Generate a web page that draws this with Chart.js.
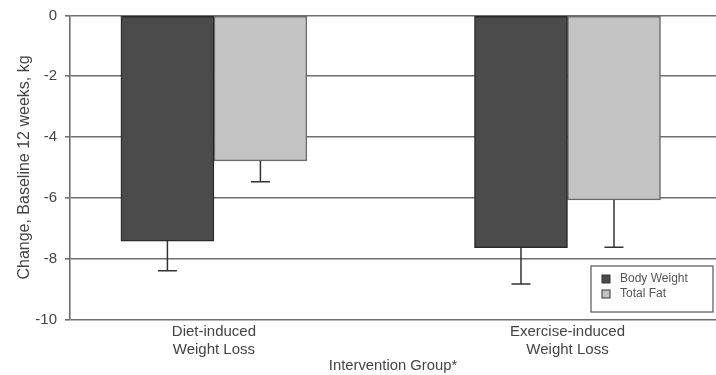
<!DOCTYPE html>
<html>
<head>
<meta charset="utf-8">
<script src="https://cdn.jsdelivr.net/npm/chart.js@4/dist/chart.umd.min.js"></script>
<style>
  html, body { margin: 0; padding: 0; background: #fff; }
  #wrap { width: 716px; height: 375px; position: relative; }
</style>
</head>
<body>
<div id="wrap"><canvas id="myChart"></canvas></div>
<script>
// values
const categories = [['Diet-induced', 'Weight Loss'], ['Exercise-induced', 'Weight Loss']];
const seriesNames = ['Body Weight', 'Total Fat'];
const bodyWeight = [-7.42, -7.64];
const totalFat = [-4.78, -6.07];
const bodyWeightErr = [0.98, 1.19];
const totalFatErr = [0.69, 1.55];
const yTicks = [0, -2, -4, -6, -8, -10];

const dark = '#4b4b4b';
const light = '#c3c3c3';

function toPoints(values) {
    return values.map((v, i) => ({ x: i + 1, y: v }));
}

// draws the lower error whiskers
const errorBars = {
    id: 'errorBars',
    afterDatasetsDraw(chart) {
        const ctx = chart.ctx;
        const yScale = chart.scales.y;
        chart.data.datasets.forEach((ds, di) => {
            const meta = chart.getDatasetMeta(di);
            meta.data.forEach((bar, i) => {
                const yEnd = yScale.getPixelForValue(ds.data[i].y - ds.errors[i]);
                ctx.save();
                ctx.strokeStyle = '#333';
                ctx.lineWidth = 1.5;
                ctx.beginPath();
                ctx.moveTo(bar.x, bar.y);
                ctx.lineTo(bar.x, yEnd);
                ctx.moveTo(bar.x - 9.5, yEnd);
                ctx.lineTo(bar.x + 9.5, yEnd);
                ctx.stroke();
                ctx.restore();
            });
        });
    }
};

// boxed legend in the lower right corner
const boxLegend = {
    id: 'boxLegend',
    afterDraw(chart) {
        const ctx = chart.ctx;
        const x = 591, y = 266, w = 122, h = 46;
        ctx.save();
        ctx.fillStyle = '#fff';
        ctx.fillRect(x, y, w, h);
        ctx.strokeStyle = '#555';
        ctx.lineWidth = 1.2;
        ctx.strokeRect(x, y, w, h);
        ctx.font = '12px "Liberation Sans", Arial, sans-serif';
        ctx.textBaseline = 'middle';
        chart.data.datasets.forEach((ds, i) => {
            const cy = y + 13 + i * 15;
            ctx.fillStyle = ds.backgroundColor;
            ctx.fillRect(x + 11, cy - 4, 8, 8);
            ctx.strokeStyle = '#333';
            ctx.lineWidth = 1;
            ctx.strokeRect(x + 11, cy - 4, 8, 8);
            ctx.fillStyle = '#555';
            ctx.fillText(ds.label, x + 29, cy);
        });
        ctx.restore();
    }
};

Chart.defaults.font.family = '"Liberation Sans", Arial, sans-serif';
Chart.defaults.color = '#444';

const ctx = document.getElementById('myChart').getContext('2d');
new Chart(ctx, {
    type: 'bar',
    data: {
        datasets: [{
            label: seriesNames[0],
            data: toPoints(bodyWeight),
            errors: bodyWeightErr,
            backgroundColor: dark,
            borderColor: '#2a2a2a',
            borderWidth: 1.5,
            borderSkipped: false
        }, {
            label: seriesNames[1],
            data: toPoints(totalFat),
            errors: totalFatErr,
            backgroundColor: light,
            borderColor: '#6a6a6a',
            borderWidth: 1.5,
            borderSkipped: false
        }]
    },
    options: {
        responsive: true,
        maintainAspectRatio: false,
        animation: false,
        barThickness: 93,
        layout: { padding: { top: 14, right: 0, bottom: 0, left: 0 } },
        plugins: {
            legend: { display: false },
            tooltip: { enabled: false }
        },
        scales: {
            x: {
                type: 'linear',
                offset: false,
                min: 0.593,
                max: 2.42,
                afterBuildTicks: (scale) => {
                    scale.ticks = categories.map((c, i) => ({ value: i + 1 }));
                },
                afterFit: (scale) => { scale.height = 55.5; },
                grid: { display: false, drawTicks: false, offset: false },
                border: { display: false },
                ticks: {
                    padding: 3,
                    font: { size: 15 },
                    color: '#444',
                    maxRotation: 0,
                    autoSkip: false,
                    callback: (value) => categories[Math.round(value) - 1]
                },
                title: {
                    display: true,
                    text: 'Intervention Group*',
                    font: { size: 14.8 },
                    color: '#444',
                    padding: { top: 0, bottom: 0 }
                }
            },
            y: {
                min: -10,
                max: 0,
                afterBuildTicks: (scale) => {
                    scale.ticks = yTicks.map(v => ({ value: v }));
                },
                afterFit: (scale) => { scale.width = 70; },
                grid: {
                    color: '#6e6e6e',
                    lineWidth: 1.6,
                    tickLength: 5
                },
                border: { display: true, color: '#6e6e6e', width: 1.6 },
                ticks: {
                    padding: 8,
                    font: { size: 15, lineHeight: 1 },
                    color: '#444'
                },
                title: {
                    display: true,
                    text: 'Change, Baseline 12 weeks, kg',
                    font: { size: 16 },
                    color: '#444',
                    padding: { top: 15, bottom: 0 }
                }
            }
        }
    },
    plugins: [errorBars, boxLegend]
});
</script>
</body>
</html>
